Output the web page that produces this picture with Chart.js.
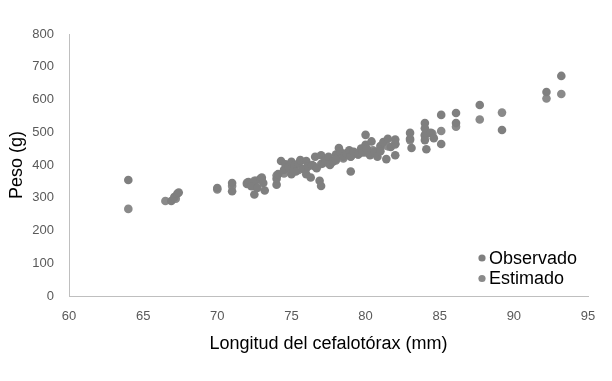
<!DOCTYPE html>
<html>
<head>
<meta charset="utf-8">
<script src="https://cdn.jsdelivr.net/npm/chart.js@4.4.1/dist/chart.umd.min.js"></script>
<style>
  html, body { margin: 0; padding: 0; background: #fff; }
  #wrap { width: 612px; height: 381px; position: relative; }
</style>
</head>
<body>
<div id="wrap"><canvas id="c" width="612" height="381"></canvas></div>
<script>
// ---- data ----
const seriesNames = ['Observado', 'Estimado'];
const xTitle = 'Longitud del cefalotórax (mm)';
const yTitle = 'Peso (g)';

const observedX = [64.0, 66.9, 67.1, 67.3, 67.4, 70.0, 71.0, 71.0,
  72.0, 72.1, 72.3, 72.5, 72.6, 72.7, 72.9, 73.0, 73.1, 73.2,
  74.0, 74.0, 74.1, 74.3, 74.5, 74.6, 74.8, 75.0, 75.0, 75.2, 75.3, 75.5, 75.6, 75.8,
  76.0, 76.0, 76.1, 76.3, 76.4, 76.6, 76.7, 76.9, 77.0, 77.0, 77.1, 77.3, 77.5, 77.6, 77.8,
  78.0, 78.0, 78.2, 78.3, 78.5, 78.7, 78.9, 79.0, 79.0, 79.2, 79.5, 79.7, 79.8,
  80.0, 80.0, 80.1, 80.3, 80.4, 80.6, 80.8, 81.0, 81.0, 81.2, 81.4, 81.5, 81.7,
  82.0, 82.0, 82.0, 83.0, 83.0, 83.1, 84.0, 84.0, 84.0, 84.0, 84.1, 84.4, 84.6,
  85.1, 85.1, 86.1, 86.1, 87.7, 89.2, 92.2, 93.2];
const observedY = [354, 290, 302, 312, 316, 330, 345, 320,
  342, 348, 335, 310, 352, 330, 358, 362, 345, 322,
  340, 358, 372, 412, 385, 402, 395, 410, 372, 398, 380, 405, 415, 388,
  372, 412, 395, 362, 400, 425, 390, 352, 336, 430, 405, 415, 425, 400, 410,
  432, 418, 452, 440, 425, 436, 445, 380, 425, 440, 432, 450, 438,
  462, 492, 448, 430, 472, 440, 425, 458, 442, 470, 418, 480, 455,
  465, 478, 430, 480, 498, 452, 492, 528, 512, 476, 448, 498, 482,
  553, 464, 559, 528, 583, 507, 623, 672];

const estimatedX = [64.0, 66.5, 67.2, 70.0, 71.0, 72.0, 72.5, 73.0, 74.0, 74.5, 75.0, 75.5,
  76.0, 76.5, 77.0, 77.5, 78.0, 78.5, 79.0, 79.5, 80.0, 80.5, 81.0, 81.5, 82.0,
  83.0, 84.0, 84.5, 85.1, 86.1, 87.7, 89.2, 92.2, 93.2];
const estimatedY = [266, 290, 297, 325, 336, 346, 352, 357, 368, 374, 379, 385,
  391, 397, 403, 408, 414, 420, 426, 432, 438, 445, 451, 457, 463,
  476, 489, 496, 504, 517, 539, 560, 603, 617];

const xTicks = [60, 65, 70, 75, 80, 85, 90, 95];
const yTicks = [0, 100, 200, 300, 400, 500, 600, 700, 800];

// ---- chart ----
const FONT = '"Liberation Sans", Arial, sans-serif';
const colors = ['#7f7f7f', '#8a8a8a'];

function pts(xs, ys) { return xs.map((x, i) => ({ x: x, y: ys[i] })); }

const legendPlugin = {
  id: 'innerLegend',
  afterDraw(chart) {
    const ctx = chart.ctx;
    ctx.save();
    ctx.font = '18px ' + FONT;
    ctx.textBaseline = 'middle';
    ctx.textAlign = 'left';
    chart.data.datasets.forEach((ds, i) => {
      const y = 258 + i * 20.5;
      ctx.fillStyle = ds.backgroundColor;
      ctx.beginPath();
      ctx.arc(482, y, 3.6, 0, Math.PI * 2);
      ctx.fill();
      ctx.fillStyle = '#000000';
      ctx.fillText(ds.label, 489, y + 1);
    });
    ctx.restore();
  }
};

new Chart(document.getElementById('c'), {
  type: 'scatter',
  data: {
    datasets: [
      { label: seriesNames[0], data: pts(observedX, observedY), backgroundColor: colors[0], borderWidth: 0, pointRadius: 4.3, pointHoverRadius: 4.3 },
      { label: seriesNames[1], data: pts(estimatedX, estimatedY), backgroundColor: colors[1], borderWidth: 0, pointRadius: 4.3, pointHoverRadius: 4.3 }
    ]
  },
  options: {
    responsive: false,
    animation: false,
    events: [],
    layout: { padding: { top: 34, right: 24, left: 0, bottom: 0 } },
    plugins: { legend: { display: false }, tooltip: { enabled: false } },
    scales: {
      x: {
        type: 'linear', min: 60, max: 95,
        afterBuildTicks(scale) { scale.ticks = xTicks.map(v => ({ value: v })); },
        afterFit(scale) { scale.height = 85; },
        grid: { display: false, drawTicks: false },
        border: { display: true, color: '#bfbfbf', width: 1 },
        ticks: { color: '#595959', font: { family: FONT, size: 13 }, padding: 13, maxRotation: 0 },
        title: { display: true, text: xTitle, color: '#000000', font: { family: FONT, size: 18 }, padding: { top: 0, bottom: 26 } }
      },
      y: {
        type: 'linear', min: 0, max: 800,
        afterBuildTicks(scale) { scale.ticks = yTicks.map(v => ({ value: v })); },
        afterFit(scale) { scale.width = 69; },
        grid: { display: false, drawTicks: false },
        border: { display: true, color: '#bfbfbf', width: 1 },
        ticks: { color: '#595959', font: { family: FONT, size: 13 }, padding: 15 },
        title: { display: true, text: yTitle, color: '#000000', font: { family: FONT, size: 18 }, padding: { top: 6, bottom: 0 } }
      }
    }
  },
  plugins: [legendPlugin]
});
</script>
</body>
</html>
